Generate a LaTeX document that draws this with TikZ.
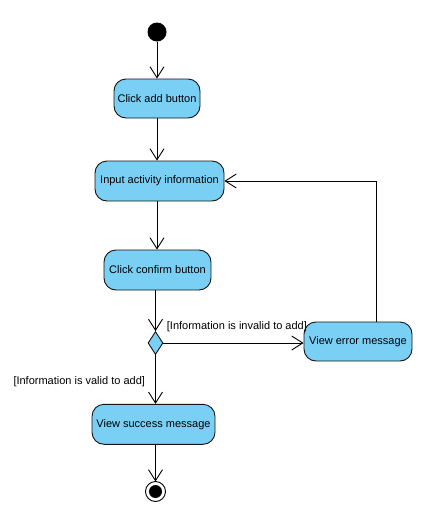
\documentclass[tikz,border=0pt]{standalone}
\usepackage{fontspec}
\setmainfont{Liberation Sans}
\usetikzlibrary{arrows.meta,shapes.geometric}
\definecolor{actfill}{RGB}{122,207,245}
\definecolor{actline}{RGB}{20,20,20}
\begin{document}
\begin{tikzpicture}[x=1pt,y=-1pt]
\tikzset{
    action/.style={draw=actline, fill=actfill, line width=.9pt, rounded corners=12pt,
        inner sep=0pt, font=\fontsize{11}{13}\selectfont},
    decision/.style={draw=actline, fill=actfill, line width=.9pt, diamond, inner sep=0pt,
        minimum width=15pt, minimum height=23pt},
    flow/.style={line width=.9pt, -{Straight Barb[length=11pt,width=14pt,line width=.9pt]}},
    guard/.style={inner sep=0pt, font=\fontsize{11}{13}\selectfont}}
\def\rstart{9.5}
\def\rend{10}
\def\rdot{6.5}

\useasboundingbox (0,0) rectangle (425,512);

\fill (157,32) circle(\rstart);
\coordinate (start) at (157,32);
\coordinate (start bottom) at (157,41.5);

\node[action, minimum width=86pt, minimum height=39pt] (clickadd) at (157,98.5) {Click add button};
\node[action, minimum width=129pt, minimum height=40pt] (inputinfo) at (159.5,181) {Input activity information};
\node[action, minimum width=107pt, minimum height=40pt] (clickconfirm) at (157.5,270) {Click confirm button};
\node[decision] (choice) at (155.5,343) {};
\node[action, minimum width=108pt, minimum height=39pt] (errormsg) at (358,341.5) {View error message};
\node[action, minimum width=123pt, minimum height=40pt] (successmsg) at (153.5,424.3) {View success message};

\coordinate (final) at (155.5,491.5);
\coordinate (final top) at (155.5,481.5);
\draw[line width=.9pt, fill=white] (final) circle(\rend);
\fill (final) circle(\rdot);

\coordinate (loop) at (376.7,181);

\draw[flow] (start bottom) -- (start bottom |- clickadd.north);
\draw[flow] (clickadd.south -| start) -- (inputinfo.north -| start);
\draw[flow] (inputinfo.south -| start) -- (clickconfirm.north -| start);
\draw[line width=.9pt] (clickconfirm.south -| choice) -- (choice.north);
\draw[flow] (choice.north) ++(0,-0.5) -- (choice.north);
\draw[flow] (choice.east) -- (errormsg.west |- choice);
\draw[flow] (choice.south) -- (successmsg.north -| choice);
\draw[flow] (successmsg.south -| choice) -- (final top);
\draw[flow] (errormsg.north -| loop) -- (loop) -- (inputinfo.east);

\node[guard, anchor=west] (invalid) at (166.7,327) {[Information is invalid to add]};
\node[guard, anchor=west] (valid) at (13.3,382) {[Information is valid to add]};

\end{tikzpicture}
\end{document}
